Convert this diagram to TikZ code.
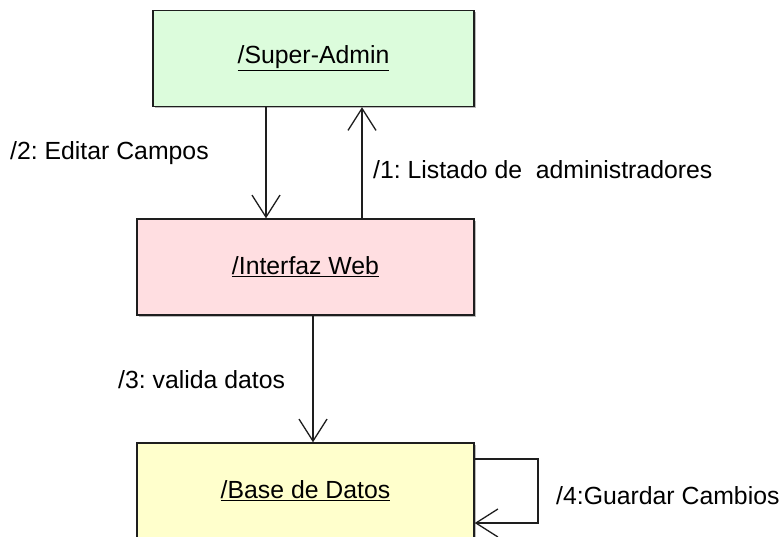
\documentclass[tikz,border=0pt]{standalone}
\usepackage{fontspec}
\setmainfont{Liberation Sans}
\usetikzlibrary{arrows.meta,shadows}
\definecolor{boxgreen}{RGB}{220,252,220}
\definecolor{boxpink}{RGB}{255,222,225}
\definecolor{boxyellow}{RGB}{255,255,204}
\definecolor{linegray}{RGB}{30,30,30}
\tikzset{
  objbox/.style={draw=linegray, line width=1.4pt, minimum height=96pt, inner sep=0pt,
    drop shadow={shadow xshift=2pt, shadow yshift=-2pt, fill=black!45, opacity=0.6},
    font=\fontsize{24.8}{29}\selectfont},
  msg/.style={draw=linegray, line width=1.3pt, -{Straight Barb[length=22pt,width=28pt,line width=1.3pt]}},
  lbl/.style={anchor=west, inner sep=0pt, font=\fontsize{24.8}{29}\selectfont},
}
\newcommand{\ul}[1]{\underline{#1}}
\frenchspacing
\begin{document}
\begin{tikzpicture}[x=1pt,y=-1pt]
\useasboundingbox (0,0) rectangle (783,537);
\node[objbox, fill=boxgreen, minimum width=321pt] (sa) at (313.5,58.5) {\raisebox{3pt}{\ul{/Super-Admin}}};
\node[objbox, fill=boxpink, minimum width=337pt] (iw) at (305.5,267) {\raisebox{2pt}{\ul{/Interfaz Web}}};
\node[objbox, fill=boxyellow, minimum width=337pt] (bd) at (305.5,491) {\raisebox{3pt}{\ul{/Base de Datos}}};

\coordinate (xa) at (266,0);
\coordinate (xb) at (362,0);
\coordinate (xc) at (313,0);
\coordinate (ya) at (0,459);
\coordinate (yb) at (0,523);
\coordinate (loopr) at (538,0);

\draw[msg] (sa.south -| xa) -- (iw.north -| xa);
\draw[msg] (iw.north -| xb) -- (sa.south -| xb);
\draw[msg] (iw.south -| xc) -- (bd.north -| xc);
\draw[msg] (bd.east |- ya) -- (loopr |- ya) -- (loopr |- yb) -- (bd.east |- yb);

\node[lbl] (l2) at (10,153) {/2: Editar Campos};
\node[lbl] (l1) at (373,170) {/1: Listado de \ administradores};
\node[lbl] (l3) at (118,380) {/3: valida datos};
\node[lbl] (l4) at (556,496) {/4:Guardar Cambios};
\end{tikzpicture}
\end{document}
